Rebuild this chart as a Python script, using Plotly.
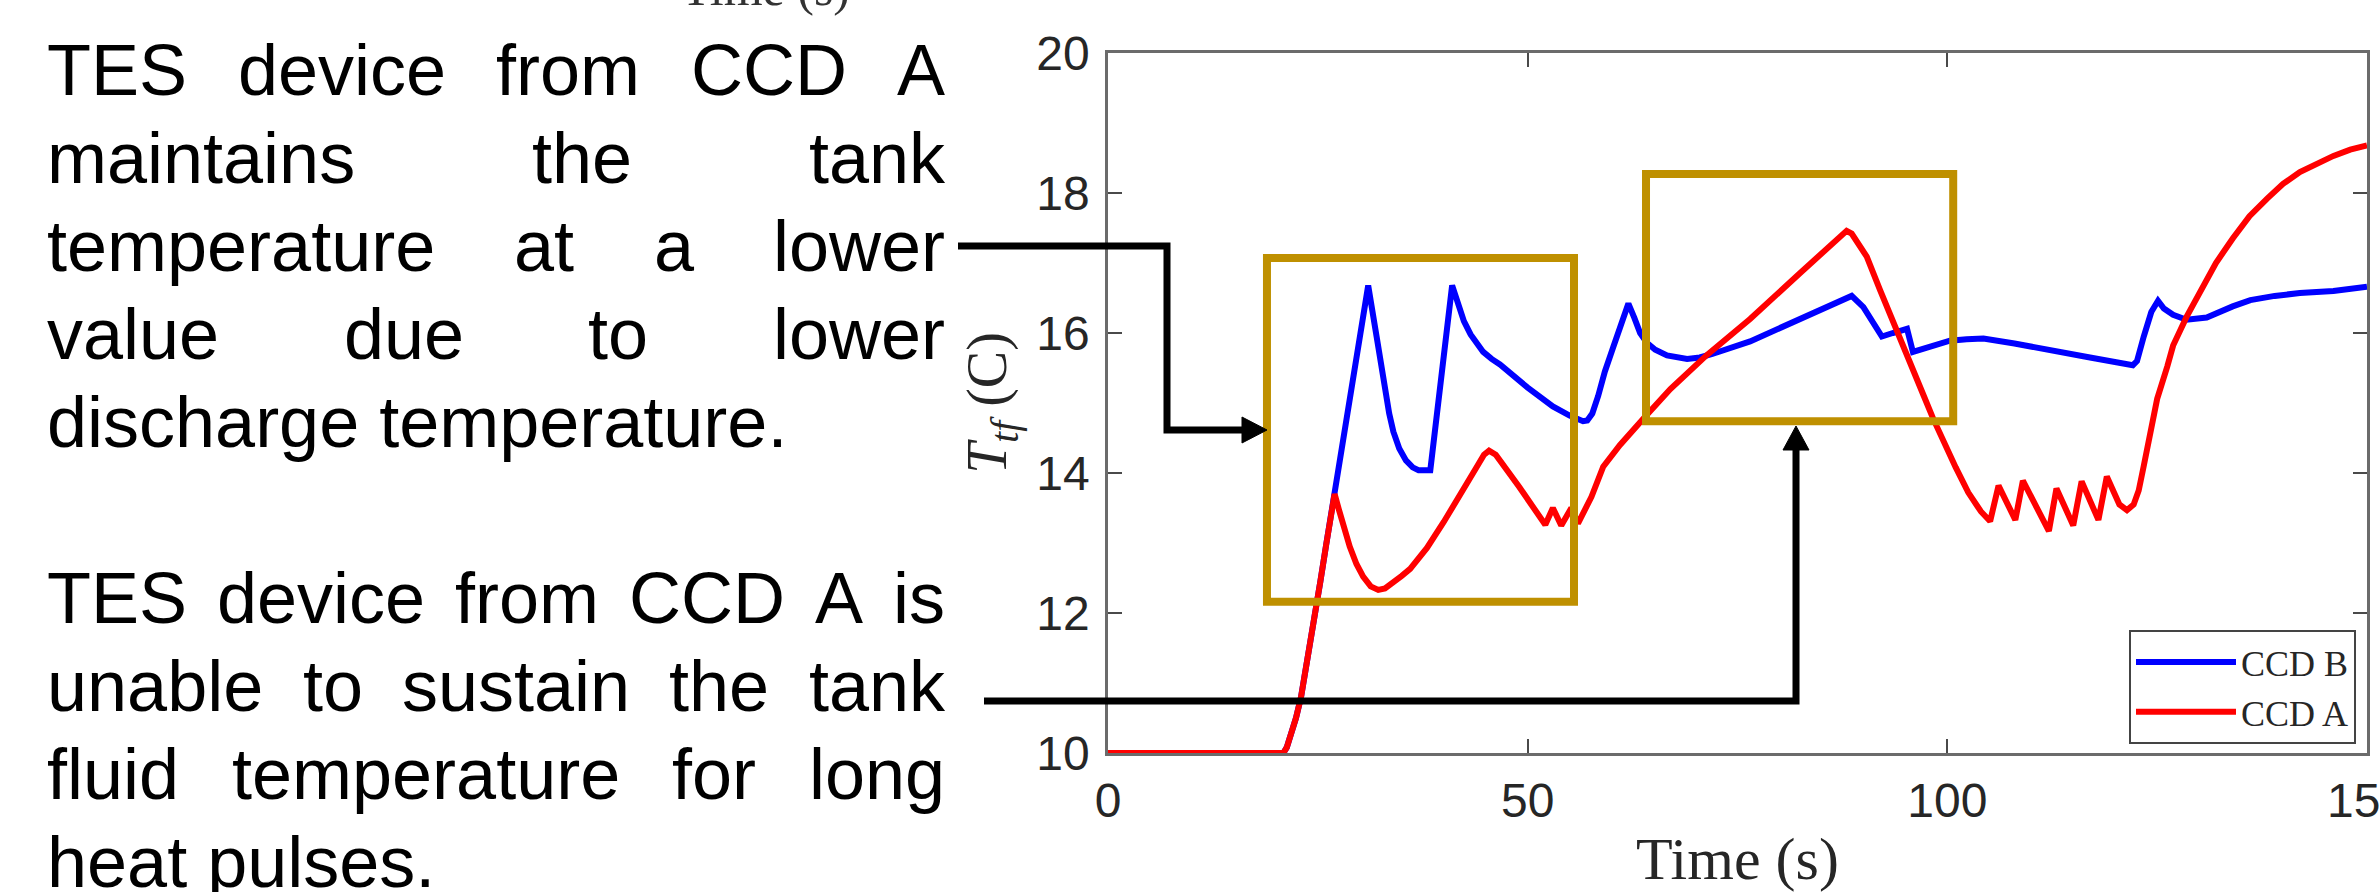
import plotly.graph_objects as go

# ---------------- data ----------------
t_ccd_b = [0, 20.9, 21.3, 21.8, 22.4, 23, 23.6, 24.2, 24.7, 25.3, 26, 27, 29, 31, 32, 32.8, 33.5, 34,
           34.7, 35.5, 36.3, 37, 38.4, 41, 41.7, 42.4, 43.2, 44, 44.7, 45.7, 46.7, 50, 53, 55, 56,
           56.6, 57.1, 57.7, 58.4, 59.2, 60.2, 61.2, 62, 62.7, 63.4, 64.2, 65.2, 66.6, 68, 69, 70.5,
           72, 76.5, 82.4, 86, 88.6, 90, 92.2, 93.5, 95.2, 95.9, 97.6, 100.3, 102.3, 104.3, 108,
           112.2, 117, 122.1, 122.6, 123.4, 124.3, 125.1, 125.8, 126.9, 128.5, 130.9, 132.5, 134,
           136.1, 139, 142, 146, 150]
T_ccd_b = [10, 10, 10.08, 10.25, 10.5, 10.8, 11.2, 11.65, 12.0, 12.45, 12.98, 13.7, 15.2, 16.68, 15.95,
           15.35, 14.85, 14.59, 14.35, 14.18, 14.08, 14.04, 14.04, 16.68, 16.4, 16.17, 15.98, 15.84,
           15.73, 15.63, 15.55, 15.22, 14.95, 14.82, 14.78, 14.74, 14.75, 14.85, 15.1, 15.45, 15.8,
           16.15, 16.42, 16.22, 16.0, 15.86, 15.76, 15.68, 15.64, 15.63, 15.65, 15.7, 15.88, 16.2,
           16.4, 16.53, 16.37, 15.95, 16.0, 16.06, 15.73, 15.8, 15.89, 15.91, 15.92, 15.85, 15.75,
           15.65, 15.54, 15.6, 15.95, 16.3, 16.46, 16.35, 16.26, 16.19, 16.22, 16.31, 16.38, 16.47,
           16.53, 16.57, 16.6, 16.66]

t_ccd_a = [0, 20.9, 21.3, 21.8, 22.4, 23, 23.6, 24.2, 24.7, 25.3, 26, 27, 27.5, 28, 28.8, 29.6, 30.4,
           31.3, 32.2, 33, 34, 35, 36, 37, 38, 40, 42, 44, 44.8, 45.4, 46.2, 47.1, 49, 52.1, 53, 54,
           55.2, 56, 57.6, 59, 61, 63.8, 67, 71.3, 76.5, 82.4, 86, 87.2, 88, 88.6, 89.3, 90.4, 92,
           93.5, 94.5, 96, 97.2, 98.3, 99.5, 101, 102.5, 104, 105.1, 106.1, 108.1, 109, 112.1, 113,
           115, 116, 118, 119, 120.5, 121.4, 122.2, 122.8, 123.4, 124.2, 125, 126.2, 126.9, 128.5,
           130.1, 132, 134, 136, 138.1, 140, 142, 144, 146, 148, 150]
T_ccd_a = [10, 10, 10.08, 10.25, 10.5, 10.8, 11.2, 11.65, 12.0, 12.45, 12.98, 13.7, 13.48, 13.25, 12.95,
           12.7, 12.52, 12.38, 12.33, 12.35, 12.43, 12.53, 12.63, 12.77, 12.93, 13.3, 13.68, 14.1,
           14.26, 14.32, 14.26, 14.12, 13.8, 13.26, 13.5, 13.25, 13.5, 13.28, 13.66, 14.09, 14.4,
           14.78, 15.2, 15.68, 16.2, 16.85, 17.25, 17.4, 17.46, 17.42, 17.3, 17.09, 16.61, 16.16,
           15.88, 15.45, 15.1, 14.78, 14.45, 14.08, 13.72, 13.45, 13.31, 13.82, 13.33, 13.89, 13.17,
           13.78, 13.25, 13.88, 13.33, 13.95, 13.55, 13.47, 13.55, 13.75, 14.1, 14.57, 15.06, 15.52,
           15.82, 16.23, 16.59, 17.0, 17.35, 17.67, 17.92, 18.13, 18.3, 18.42, 18.53, 18.62, 18.68]

x_ticks = [0, 50, 100, 150]
y_ticks = [10, 12, 14, 16, 18, 20]

# highlighted regions (data units): [t0, t1, T0, T1]
box_short_pulses = [18.94, 55.52, 12.16, 17.07]
box_long_pulse = [64.1, 100.7, 14.74, 18.27]

para1 = ["TES device from CCD A", "maintains the tank", "temperature at a lower",
         "value due to lower", "discharge temperature."]
para2 = ["TES device from CCD A is", "unable to sustain the tank",
         "fluid temperature for long", "heat pulses."]

# ---------------- geometry helpers ----------------
W, H = 2379, 892
L, R, T, B = 1108, 12, 53, 139
PW, PH = W - L - R, H - T - B


def px(x):
    return (x - L) / PW


def py(y):
    return (H - B - y) / PH


# Arial / Liberation Sans advance widths (per em)
AW = {' ': .278, '.': .278, 'A': .667, 'C': .722, 'D': .722, 'E': .667, 'S': .667, 'T': .611,
      'a': .556, 'b': .556, 'c': .5, 'd': .556, 'e': .556, 'f': .278, 'g': .556, 'h': .556,
      'i': .222, 'k': .5, 'l': .222, 'm': .833, 'n': .556, 'o': .556, 'p': .556, 'r': .333,
      's': .5, 't': .278, 'u': .556, 'v': .5, 'w': .722, 'y': .5}


def wlen(word, size):
    return sum(AW.get(c, .556) for c in word) * size


fig = go.Figure()
fig.add_trace(go.Scatter(x=t_ccd_b, y=T_ccd_b, mode="lines", name="CCD B",
                         line=dict(color="#0000FF", width=6)))
fig.add_trace(go.Scatter(x=t_ccd_a, y=T_ccd_a, mode="lines", name="CCD A",
                         line=dict(color="#FF0000", width=6)))

shapes = []
gold = "#BF9000"
for bx in (box_short_pulses, box_long_pulse):
    shapes.append(dict(type="rect", xref="x", yref="y", x0=bx[0], x1=bx[1], y0=bx[2], y1=bx[3],
                       line=dict(color=gold, width=8), fillcolor="rgba(0,0,0,0)"))


def poly(points, closed=False):
    s = "M " + " L ".join(f"{px(a):.5f},{py(b):.5f}" for a, b in points)
    return s + (" Z" if closed else "")


# connector arrows (page pixels)
shapes.append(dict(type="path", xref="paper", yref="paper",
                   path=poly([(958, 246), (1167, 246), (1167, 430), (1244, 430)]),
                   line=dict(color="black", width=7)))
shapes.append(dict(type="path", xref="paper", yref="paper",
                   path=poly([(1242, 417), (1267, 430), (1242, 443)], True),
                   fillcolor="black", line=dict(color="black", width=1)))
shapes.append(dict(type="path", xref="paper", yref="paper",
                   path=poly([(984, 701), (1796, 701), (1796, 448)]),
                   line=dict(color="black", width=7)))
shapes.append(dict(type="path", xref="paper", yref="paper",
                   path=poly([(1783, 450), (1796, 426), (1809, 450)], True),
                   fillcolor="black", line=dict(color="black", width=1)))

# ---------------- justified paragraph text ----------------
annotations = []
FS = 72
X0, X1 = 46, 944
baselines = [94, 182, 270, 358, 446, 622, 710, 798, 886]
lines = [(s, True) for s in para1[:-1]] + [(para1[-1], False)] + \
        [(s, True) for s in para2[:-1]] + [(para2[-1], False)]
for (text, justify), base in zip(lines, baselines):
    words = text.split(" ")
    ycen = base - 0.33 * FS
    if justify and len(words) > 1:
        total = sum(wlen(w, FS) for w in words)
        gap = (X1 - X0 - total) / (len(words) - 1)
        x = X0
        for w in words:
            annotations.append(dict(text=w, x=px(x - 1), y=py(ycen), xref="paper", yref="paper",
                                    xanchor="left", yanchor="middle", showarrow=False,
                                    font=dict(family="Liberation Sans, Arial", size=FS, color="black")))
            x += wlen(w, FS) + gap
    else:
        annotations.append(dict(text=text, x=px(X0 - 1), y=py(ycen), xref="paper", yref="paper",
                                xanchor="left", yanchor="middle", showarrow=False,
                                font=dict(family="Liberation Sans, Arial", size=FS, color="black")))

# clipped axis title of the chart above
annotations.append(dict(text="Time (s)", x=px(765), y=py(-12), xref="paper", yref="paper",
                        xanchor="center", yanchor="middle", showarrow=False,
                        font=dict(family="Liberation Serif, serif", size=50, color="#333")))

axis_common = dict(showline=True, linecolor="#6b6b6b", linewidth=2.5, mirror="ticks",
                   ticks="inside", ticklen=14, tickwidth=2, tickcolor="#4a4a4a",
                   showgrid=False, zeroline=False, automargin=False,
                   tickfont=dict(family="Liberation Sans, Arial", size=48, color="#262626"))

fig.update_layout(
    width=W, height=H, margin=dict(l=L, r=R, t=T, b=B, autoexpand=False),
    plot_bgcolor="white", paper_bgcolor="white",
    xaxis=dict(range=[0, 150], tickvals=x_ticks, ticklabelstandoff=4, ticklabeloverflow="allow",
               title=dict(text="Time (s)", standoff=22,
                          font=dict(family="Liberation Serif, serif", size=60, color="#262626")),
               **axis_common),
    yaxis=dict(range=[10, 20], tickvals=y_ticks, ticklabelstandoff=6,
               title=dict(text="<i>T</i><sub><i>tf</i></sub> (C)", standoff=12,
                          font=dict(family="Liberation Serif, serif", size=56, color="#262626")),
               **axis_common),
    legend=dict(x=px(2356), y=py(744), xanchor="right", yanchor="bottom",
                bgcolor="white", bordercolor="#444", borderwidth=2,
                font=dict(family="Liberation Serif, serif", size=36, color="#262626"),
                itemwidth=100, tracegroupgap=0),
    shapes=shapes, annotations=annotations,
)

fig.write_html("out.html")
